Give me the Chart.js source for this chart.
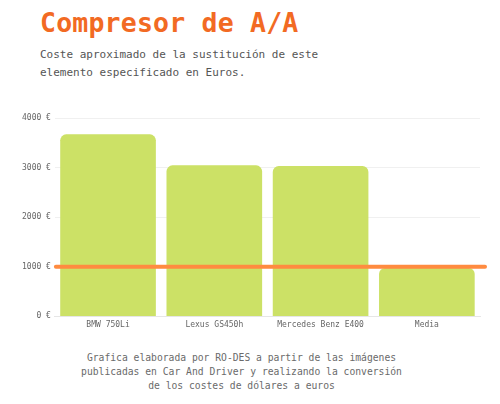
<!DOCTYPE html>
<html>
<head>
<meta charset="utf-8">
<script src="https://cdn.jsdelivr.net/npm/chart.js@4"></script>
<style>
    body { margin: 0; background: #fff; width: 500px; height: 404px; overflow: hidden; position: relative; font-family: "DejaVu Sans Mono", monospace; }
    h1 { position: absolute; left: 40px; top: 7px; margin: 0; font-size: 26.5px; font-weight: bold; color: #f26a23; letter-spacing: 0.2px; }
    .sub { position: absolute; left: 40px; top: 46px; margin: 0; font-size: 11px; line-height: 18px; color: #555; }
    .chart-box { position: absolute; left: 0; top: 104px; width: 500px; height: 243px; }
    .foot { position: absolute; left: 0; width: 483px; top: 351px; text-align: center; font-size: 9.7px; line-height: 14px; color: #6a6a6a; }
</style>
</head>
<body>
<h1>Compresor de A/A</h1>
<p class="sub">Coste aproximado de la sustitución de este<br>elemento especificado en Euros.</p>
<div class="chart-box"><canvas id="chart"></canvas></div>
<div class="foot">Grafica elaborada por RO-DES a partir de las imágenes<br>publicadas en Car And Driver y realizando la conversión<br>de los costes de dólares a euros</div>

<script>
const categories = ["BMW 750Li", "Lexus GS450h", "Mercedes Benz E400", "Media"];
const costs = [3670, 3045, 3030, 975];
const referenceValue = 1000;
const yTicks = [0, 1000, 2000, 3000, 4000];

// horizontal orange line at the reference value
const refLine = {
    id: "refLine",
    afterDatasetsDraw(chart) {
        const { ctx, chartArea, scales } = chart;
        const y = scales.y.getPixelForValue(referenceValue);
        ctx.save();
        ctx.strokeStyle = "#ff8b40";
        ctx.lineWidth = 4;
        ctx.lineCap = "round";
        ctx.beginPath();
        ctx.moveTo(chartArea.left + 1, y);
        ctx.lineTo(chartArea.right + 5, y);
        ctx.stroke();
        ctx.restore();
    },
};

const ctx = document.getElementById("chart");
new Chart(ctx, {
    type: "bar",
    data: {
        labels: categories,
        datasets: [{
            data: costs,
            backgroundColor: "#cce166",
            borderRadius: 6,
            borderSkipped: "start",
            barPercentage: 1,
            categoryPercentage: 0.9,
        }],
    },
    options: {
        responsive: true,
        maintainAspectRatio: false,
        animation: false,
        layout: { padding: { left: 18, right: 20, top: 14, bottom: 13 } },
        plugins: { legend: { display: false }, tooltip: { enabled: false } },
        scales: {
            x: {
                grid: { display: false, drawTicks: false },
                border: { color: "#e6e6e6" },
                ticks: { color: "#666", padding: 4, font: { family: "DejaVu Sans Mono", size: 8 } },
            },
            y: {
                min: 0,
                max: 4000,
                afterBuildTicks(axis) { axis.ticks = yTicks.map(v => ({ value: v })); },
                grid: { color: "#f0f0f0", drawTicks: false },
                border: { display: false },
                ticks: {
                    color: "#666",
                    padding: 4,
                    font: { family: "DejaVu Sans Mono", size: 8 },
                    callback: v => v + " €",
                },
            },
        },
    },
    plugins: [refLine],
});
</script>
</body>
</html>
